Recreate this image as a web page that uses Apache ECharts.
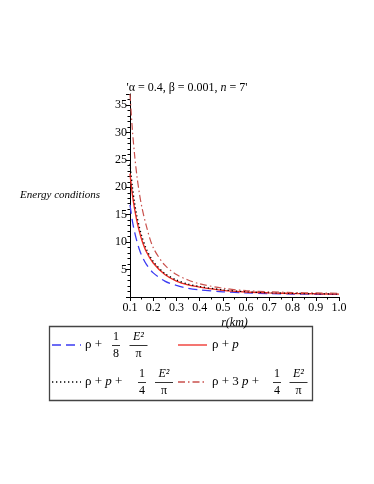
<!DOCTYPE html>
<html>
<head>
<meta charset="utf-8">
<script src="https://cdn.jsdelivr.net/npm/echarts@6/dist/echarts.min.js"></script>
<style>
  html, body { margin: 0; padding: 0; background: #fff; }
  #main { width: 374px; height: 484px; }
</style>
</head>
<body>
<div id="main"></div>
<script>
// r (km) sample points
const radius = [0.1, 0.11, 0.12, 0.13, 0.14, 0.15, 0.17, 0.2, 0.25, 0.3, 0.35, 0.4, 0.5, 0.6, 0.7, 0.8, 0.9, 1.0]
// rho + E^2/(8 pi)
const rhoE8 = [16.8, 13.9, 11.8, 10.1, 8.7, 7.6, 6.0, 4.4, 2.9, 2.1, 1.6, 1.3, 0.95, 0.75, 0.62, 0.55, 0.5, 0.46]
// rho + p
const rhoP = [22.5, 18.8, 16.0, 13.8, 12.0, 10.5, 8.3, 6.2, 4.1, 2.9, 2.2, 1.8, 1.2, 0.9, 0.75, 0.65, 0.58, 0.53]
// rho + p + E^2/(4 pi)
const rhoPE4 = [24.3, 20.2, 17.1, 14.7, 12.8, 11.2, 8.8, 6.5, 4.3, 3.1, 2.35, 1.9, 1.3, 0.95, 0.78, 0.67, 0.6, 0.55]
// rho + 3p + E^2/(4 pi)
const rho3PE4 = [37, 30.6, 25.8, 22.0, 19.0, 16.6, 13.0, 9.0, 5.8, 4.1, 3.1, 2.4, 1.6, 1.15, 0.95, 0.82, 0.74, 0.68]

const xTicks = [0.1, 0.2, 0.3, 0.4, 0.5, 0.6, 0.7, 0.8, 0.9, 1.0]
const yTicks = [5, 10, 15, 20, 25, 30, 35]

const serif = '"Liberation Serif", "DejaVu Serif", serif'
const BLUE = '#3b3bf2'
const RED = '#ee2a24'
const DASHDOT = '#c9504c'

const pairs = (ys) => radius.map((r, i) => [r, ys[i]])

const chart = echarts.init(document.getElementById('main'))

// small helpers for the legend (stacked fractions drawn as text)
const txt = (x, y, text, opts = {}) => ({
  type: 'text',
  silent: true,
  style: Object.assign({
    x, y, text,
    font: '13px ' + serif,
    fill: '#000',
    align: 'left',
    verticalAlign: 'middle'
  }, opts)
})
const frac = (cx, cy, top, bottom, w) => [
  txt(cx, cy - 8, top, { align: 'center', font: top === 'E²' ? 'italic 12px ' + serif : '12px ' + serif }),
  {
    type: 'line', silent: true,
    shape: { x1: cx - w / 2, y1: cy + 0.5, x2: cx + w / 2, y2: cy + 0.5 },
    style: { stroke: '#000', lineWidth: 0.8 }
  },
  txt(cx, cy + 9, bottom, { align: 'center', font: '12px ' + serif })
]
const sample = (x1, x2, y, color, dash) => ({
  type: 'line', silent: true,
  shape: { x1, y1: y, x2, y2: y },
  style: { stroke: color, lineWidth: 1.3, lineDash: dash }
})
const pRich = {
  a: { font: '13px ' + serif, fill: '#000' },
  i: { font: 'italic 13px ' + serif, fill: '#000' }
}
const richTxt = (x, y, text) => ({
  type: 'text', silent: true,
  style: { x, y, text, rich: pRich, align: 'left', verticalAlign: 'middle' }
})

const row1 = 345
const row2 = 382

const option = {
  animation: false,
  backgroundColor: '#fff',
  title: {
    text: "{a|'α = 0.4, β = 0.001, }{i|n}{a| = 7'}",
    left: 182,
    top: 77,
    textAlign: 'center',
    textStyle: {
      rich: {
        a: { fontFamily: serif, fontSize: 12, fontWeight: 'normal', color: '#000' },
        i: { fontFamily: serif, fontSize: 12, fontWeight: 'normal', fontStyle: 'italic', color: '#000' }
      }
    }
  },
  grid: {
    left: 130,
    right: 35,
    top: 94,
    bottom: 187,
    containLabel: false,
    outerBoundsMode: 'none'
  },
  xAxis: {
    type: 'value',
    min: 0.1,
    max: 1.0,
    interval: 0.1,
    name: 'r(km)',
    nameLocation: 'middle',
    nameGap: 20,
    nameTextStyle: { fontFamily: serif, fontStyle: 'italic', fontSize: 12, color: '#000' },
    axisLine: { onZero: false, lineStyle: { color: '#000', width: 1 } },
    axisTick: { length: 4, lineStyle: { color: '#000' } },
    minorTick: { show: true, splitNumber: 2, length: 2.5, lineStyle: { color: '#000' } },
    splitLine: { show: false },
    axisLabel: {
      margin: 5,
      fontFamily: serif,
      fontSize: 12,
      color: '#000',
      formatter: (v) => {
        const hit = xTicks.find(t => Math.abs(t - v) < 1e-6)
        return hit === undefined ? '' : hit.toFixed(1)
      }
    }
  },
  yAxis: {
    type: 'value',
    min: 0,
    max: 37,
    interval: 5,
    name: 'Energy conditions',
    nameLocation: 'middle',
    nameRotate: 0,
    nameGap: 30,
    nameTextStyle: { fontFamily: serif, fontStyle: 'italic', fontSize: 11, color: '#000', padding: [0, 0, 22, 0] },
    axisLine: { show: true, lineStyle: { color: '#000', width: 1 } },
    axisTick: { length: 4, lineStyle: { color: '#000' } },
    minorTick: { show: true, splitNumber: 5, length: 2.5, lineStyle: { color: '#000' } },
    splitLine: { show: false },
    axisLabel: {
      margin: 3,
      fontFamily: serif,
      fontSize: 12,
      color: '#000',
      formatter: (v) => (yTicks.includes(v) ? String(v) : '')
    }
  },
  series: [
    {
      name: 'rhoE8',
      type: 'line',
      smooth: 0.3,
      showSymbol: false,
      data: pairs(rhoE8),
      lineStyle: { color: BLUE, width: 1.3, type: [9, 5] }
    },
    {
      name: 'rhoP',
      type: 'line',
      smooth: 0.3,
      showSymbol: false,
      data: pairs(rhoP),
      lineStyle: { color: RED, width: 1.4, type: 'solid' }
    },
    {
      name: 'rhoPE4',
      type: 'line',
      smooth: 0.3,
      showSymbol: false,
      data: pairs(rhoPE4),
      lineStyle: { color: '#000', width: 1.3, type: [1.3, 2.7] }
    },
    {
      name: 'rho3PE4',
      type: 'line',
      smooth: 0.3,
      showSymbol: false,
      data: pairs(rho3PE4),
      lineStyle: { color: DASHDOT, width: 1.2, type: [7, 3, 1.5, 3] }
    }
  ],
  graphic: [
    {
      type: 'rect', silent: true,
      shape: { x: 49.5, y: 326.5, width: 263, height: 74 },
      style: { fill: 'none', stroke: '#444', lineWidth: 1.3 }
    },
    // row 1
    sample(52, 81, row1, BLUE, [9, 5]),
    txt(85, row1, 'ρ +'),
    ...frac(116, row1, '1', '8', 8),
    ...frac(138.5, row1, 'E²', 'π', 18),
    sample(178, 207, row1, RED, null),
    richTxt(212, row1, '{a|ρ + }{i|p}'),
    // row 2
    sample(52, 81, row2, '#000', [1.3, 2.7]),
    richTxt(85, row2, '{a|ρ + }{i|p}{a| +}'),
    ...frac(142, row2, '1', '4', 8),
    ...frac(164, row2, 'E²', 'π', 18),
    sample(178, 206, row2, DASHDOT, [7, 3, 1.5, 3]),
    richTxt(212, row2, '{a|ρ + 3 }{i|p}{a| +}'),
    ...frac(277, row2, '1', '4', 8),
    ...frac(298.5, row2, 'E²', 'π', 18)
  ]
}

chart.setOption(option)
</script>
</body>
</html>
